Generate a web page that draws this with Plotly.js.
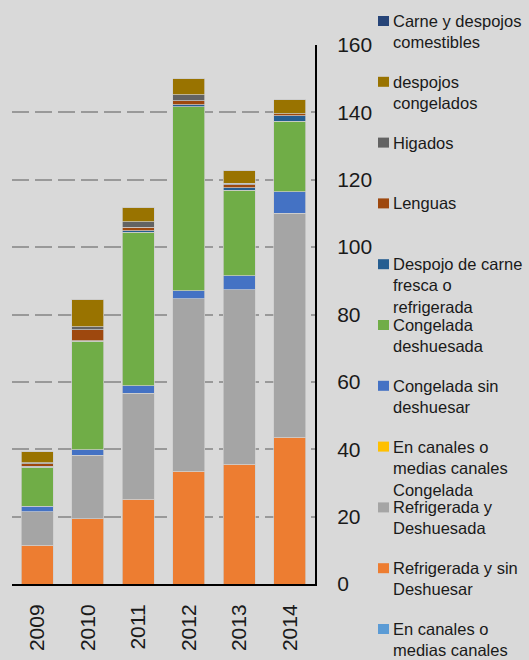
<!DOCTYPE html>
<html>
<head>
<meta charset="utf-8">
<script src="https://cdn.plot.ly/plotly-3.0.1.min.js"></script>
<style>html,body{margin:0;padding:0;background:#d9d9d9;}#chart{width:529px;height:660px;}</style>
</head>
<body>
<div id="chart"></div>
<script>
// ---- data ----
const years = ['2009', '2010', '2011', '2012', '2013', '2014'];

// series in stacking order (bottom to top)
const enCanales = [0, 0, 0, 0, 0, 0];
const refrigeradaSinDeshuesar = [11.5, 19.4, 25.2, 33.5, 35.6, 43.6];
const refrigeradaDeshuesada = [9.9, 18.8, 31.4, 51.2, 51.7, 66.5];
const enCanalesCongelada = [0, 0, 0, 0, 0, 0];
const congeladaSinDeshuesar = [1.7, 1.7, 2.2, 2.3, 4.2, 6.4];
const congeladaDeshuesada = [11.6, 32.2, 45.6, 54.7, 25.4, 20.8];
const despojoFresca = [0.3, 0.1, 0.4, 0.5, 0.8, 1.7];
const lenguas = [0.7, 3.3, 1.1, 1.3, 0.8, 0.6];
const higados = [0.3, 0.8, 1.6, 1.7, 0.5, 0];
const despojosCongelados = [3.2, 8.3, 4.4, 4.8, 3.7, 4.2];
const carneDespojos = [0, 0, 0, 0, 0, 0];

const seriesNames = [
  'En canales o<br>medias canales',
  'Refrigerada y sin<br>Deshuesar',
  'Refrigerada y<br>Deshuesada',
  'En canales o<br>medias canales<br>Congelada',
  'Congelada sin<br>deshuesar',
  'Congelada<br>deshuesada',
  'Despojo de carne<br>fresca o<br>refrigerada',
  'Lenguas',
  'Higados',
  'despojos<br>congelados',
  'Carne y despojos<br>comestibles'
];
const seriesValues = [enCanales, refrigeradaSinDeshuesar, refrigeradaDeshuesada, enCanalesCongelada,
  congeladaSinDeshuesar, congeladaDeshuesada, despojoFresca, lenguas, higados, despojosCongelados, carneDespojos];
const seriesColors = ['#5b9bd5', '#ed7d31', '#a5a5a5', '#ffc000', '#4472c4', '#70ad47',
  '#255e91', '#9e480e', '#636363', '#997300', '#264478'];

const yTickVals = [0, 20, 40, 60, 80, 100, 120, 140, 160];

// ---- chart ----
const FONT = 'Liberation Sans, Arial, sans-serif';
const W = 529, H = 660;
const M = {l: 12, r: 214, t: 45, b: 76};
const plotW = W - M.l - M.r, plotH = H - M.t - M.b;
const px2x = (px) => (px - M.l) / plotW;
const px2y = (py) => (H - M.b - py) / plotH;

const traces = seriesNames.map((n, i) => ({
  type: 'bar',
  x: years,
  y: seriesValues[i],
  name: n,
  marker: {color: seriesColors[i], line: {color: 'rgba(205,205,205,0.9)', width: 0.8}},
  showlegend: false,
  hoverinfo: 'skip'
}));

// custom legend (top to bottom = reversed stacking order)
const shapes = [];
const annotations = [];
const legendTop = 21, legendStep = 60.8;
for (let k = 0; k < seriesNames.length; k++) {
  const i = seriesNames.length - 1 - k;
  const cy = legendTop + k * legendStep;
  shapes.push({
    type: 'rect', xref: 'paper', yref: 'paper',
    x0: px2x(378), x1: px2x(389), y0: px2y(cy + 5), y1: px2y(cy - 5),
    fillcolor: seriesColors[i], line: {width: 0}
  });
  annotations.push({
    xref: 'paper', yref: 'paper', x: px2x(392), y: px2y(cy - 10),
    xanchor: 'left', yanchor: 'top', align: 'left', showarrow: false,
    text: seriesNames[i], borderpad: 0,
    font: {family: FONT, size: 16.5, color: '#1a1a1a'}
  });
}

const layout = {
  width: W, height: H,
  margin: M,
  paper_bgcolor: '#d9d9d9',
  plot_bgcolor: '#d9d9d9',
  barmode: 'stack',
  bargap: 0.36,
  showlegend: false,
  font: {family: FONT, color: '#1a1a1a'},
  xaxis: {
    type: 'category',
    showline: true, linecolor: '#000', linewidth: 2,
    showgrid: false, zeroline: false, ticks: '',
    tickangle: -90, ticklabelstandoff: 10,
    tickfont: {family: FONT, size: 21, color: '#1a1a1a'}
  },
  yaxis: {
    side: 'right',
    range: [0, 160],
    tickvals: yTickVals,
    showline: true, linecolor: '#000', linewidth: 2,
    showgrid: true, gridcolor: '#999999', gridwidth: 2, griddash: '17px,6px',
    zeroline: false, ticks: '', ticklabelstandoff: 16,
    tickfont: {family: FONT, size: 21, color: '#1a1a1a'}
  },
  shapes: shapes,
  annotations: annotations
};

Plotly.newPlot('chart', traces, layout, {displayModeBar: false, staticPlot: true});
</script>
</body>
</html>
